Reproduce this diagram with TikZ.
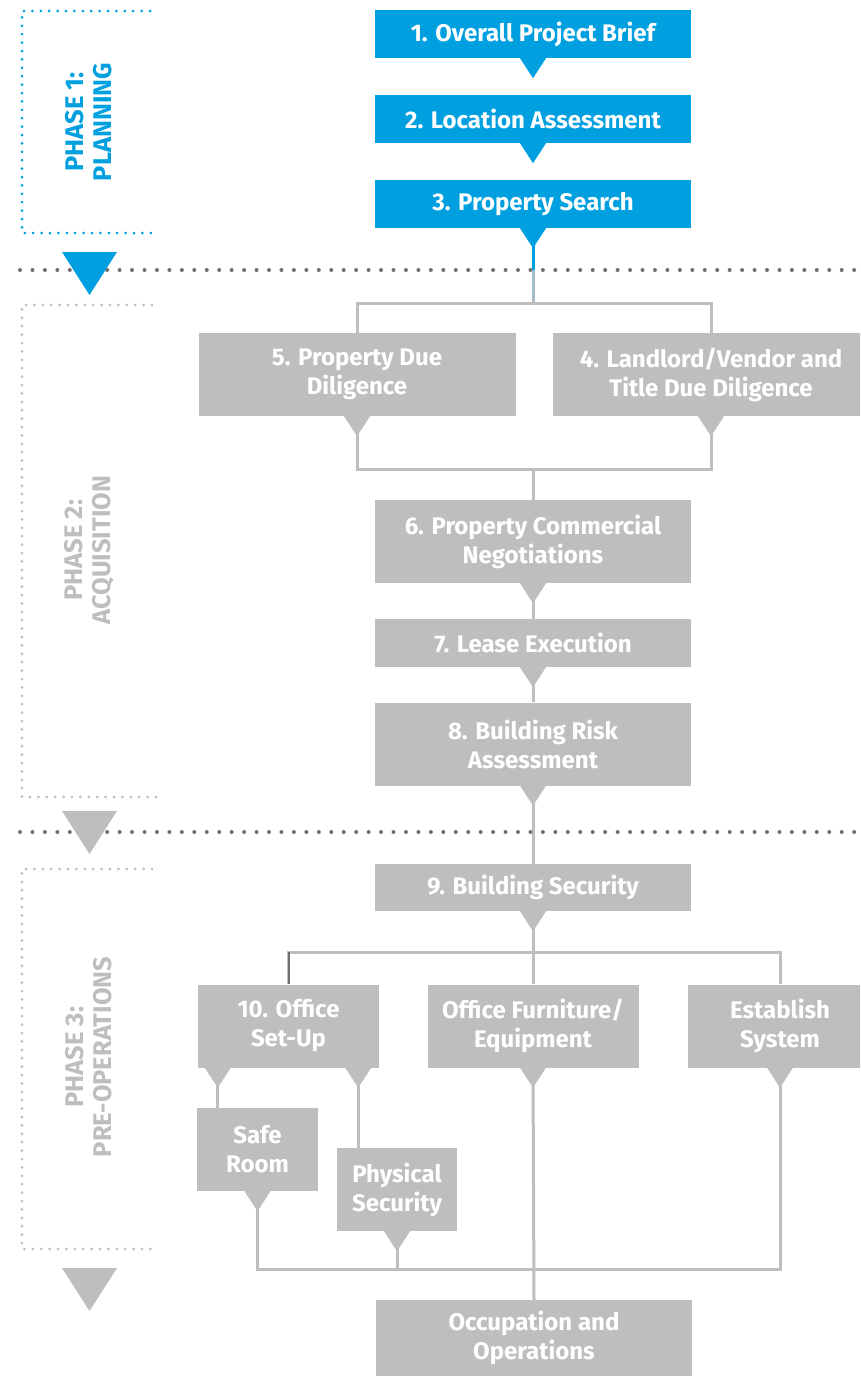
\documentclass[tikz,border=0pt]{standalone}
\usepackage{fontspec}
\setmainfont{Fira Sans}
\usetikzlibrary{positioning, calc}

\definecolor{phaseblue}{HTML}{00A0E0}
\definecolor{boxgray}{HTML}{BEBEBE}
\definecolor{dotgray}{HTML}{707070}
\definecolor{linkblue}{HTML}{A6BCCB}

\tikzset{
  stepbox/.style={fill=boxgray, text=white, align=center, inner sep=0pt,
    minimum width=316pt, font=\bfseries\fontsize{24}{29}\selectfont},
  bluebox/.style={stepbox, fill=phaseblue},
  onerow/.style={minimum height=48pt},
  tworow/.style={minimum height=83pt},
  link/.style={draw=boxgray, line width=3pt},
  seprow/.style={draw=dotgray, line width=4pt, line cap=round, dash pattern=on 0pt off 12.45pt},
  bracket/.style={line width=3pt, line cap=round, dash pattern=on 0pt off 8.4pt},
  phaselabel/.style={rotate=90, align=center, font=\bfseries\fontsize{25.5}{28}\selectfont}
}

% pointer under a box
\newcommand{\pointer}[2][boxgray]{\fill[#1] (#2) ++(-13,0) -- ++(26,0) -- ++(-13,20) -- cycle;}
% big phase arrow
\newcommand{\phasearrow}[2][boxgray]{\fill[#1] (62,#2) -- (117,#2) -- (89.5,#2+43) -- cycle;}

\begin{document}
\begin{tikzpicture}[x=1pt, y=-1pt]
    \clip (0,0) rectangle (860,1376);
    \fill[white] (0,0) rectangle (860,1376);

    % Phase separators
    \coordinate (sep1) at (20,270);
    \coordinate (sep2) at (20,832);
    \draw[seprow] (sep1) -- (860,270);
    \draw[seprow] (sep2) -- (860,832);

    % Phase brackets
    \draw[bracket, phaseblue] (150,11) -- (22,11) -- (22,233) -- (158,233);
    \draw[bracket, boxgray] (152,305) -- (22,305) -- (22,797) -- (158,797);
    \draw[bracket, boxgray] (152,869) -- (22,869) -- (22,1249) -- (158,1249);

    % Phase labels
    \node[phaselabel, text=phaseblue] (phase1) at (89,122) {PHASE 1:\\PLANNING};
    \node[phaselabel, text=boxgray] (phase2) at (89,550) {PHASE 2:\\ACQUISITION};
    \node[phaselabel, text=boxgray] (phase3) at (89,1057) {PHASE 3:\\PRE-OPERATIONS};

    \phasearrow[phaseblue]{252}
    \phasearrow{811}
    \phasearrow{1268}

    % Phase 1 boxes
    \node[bluebox, onerow] (brief) at (533,34) {1. Overall Project Brief};
    \node[bluebox, onerow] (location) at (533,119) {2. Location Assessment};
    \node[bluebox, onerow] (search) at (533,204) {3. Property Search};

    % Phase 2 boxes
    \node[stepbox, tworow, minimum width=317pt] (duediligence) at (357,374.5) {5. Property Due\\Diligence};
    \node[stepbox, tworow] (landlord) at (711,374.5) {4. Landlord/Vendor and\\Title Due Diligence};
    \node[stepbox, tworow] (negotiations) at (533,541.5) {6. Property Commercial\\Negotiations};
    \node[stepbox, onerow] (lease) at (533,643) {7. Lease Execution};
    \node[stepbox, tworow] (riskcheck) at (533,744) {8. Building Risk\\Assessment};

    % Phase 3 boxes
    \node[stepbox, onerow, minimum height=47pt] (security) at (533,887.5) {9. Building Security};
    \node[stepbox, tworow, minimum width=181pt] (setup) at (288.5,1026) {10. Office\\Set-Up};
    \node[stepbox, tworow, minimum width=211pt] (furniture) at (533,1026) {Office Furniture/\\Equipment};
    \node[stepbox, tworow, minimum width=184pt] (establish) at (780,1026) {Establish\\System};
    \node[stepbox, tworow, minimum width=121pt] (saferoom) at (257.5,1149.5) {Safe\\Room};
    \node[stepbox, tworow, minimum width=120pt] (physical) at (397,1189.5) {Physical\\Security};
    \node[stepbox, minimum height=76pt] (occupation) at (534,1338) {Occupation and\\Operations};

    % Junctions
    \coordinate (split1) at (533,303);
    \coordinate (merge2) at (533,469);
    \coordinate (split3) at (533,952);
    \coordinate (merge3) at (533,1269);
    \coordinate (setupleft) at ($(setup.south west)+(20,0)$);
    \coordinate (setupright) at ($(setup.south east)+(-21,0)$);

    % Connectors
    \draw[link, draw=linkblue] (search.south) -- (split1);
    \draw[link, draw=phaseblue] (search.south) -- (search.south |- sep1);
    \draw[link] (duediligence.north) |- (split1) -| (landlord.north);
    \draw[link] (duediligence.south) |- (landlord.south |- merge2) -- (landlord.south);
    \draw[link] (merge2) -- (negotiations.north);
    \draw[link] (negotiations.south) -- (lease.north);
    \draw[link] (lease.south) -- (riskcheck.north);
    \draw[link] (riskcheck.south) -- (security.north);
    \draw[link] (security.south) -- (split3);
    \draw[link] (setup.north) |- (split3) -| (establish.north);
    \draw[link] (split3) -- (furniture.north);
    \draw[line width=2pt, draw=dotgray] (setup.north) -- (setup.north |- split3);
    \draw[link] (setupleft) -- (setupleft |- saferoom.north);
    \draw[link] (setupright) -- (setupright |- physical.north);
    \draw[link] (saferoom.south) |- (establish.south |- merge3) -- (establish.south);
    \draw[link] (physical.south) -- (physical.south |- merge3);
    \draw[link] (furniture.south) -- (occupation.north);

    % Pointers
    \pointer[phaseblue]{brief.south}
    \pointer[phaseblue]{location.south}
    \pointer[phaseblue]{search.south}
    \pointer{duediligence.south}
    \pointer{landlord.south}
    \pointer{negotiations.south}
    \pointer{lease.south}
    \pointer{riskcheck.south}
    \pointer{security.south}
    \pointer{setupleft}
    \pointer{setupright}
    \pointer{furniture.south}
    \pointer{establish.south}
    \pointer{saferoom.south}
    \pointer{physical.south}
\end{tikzpicture}
\end{document}
